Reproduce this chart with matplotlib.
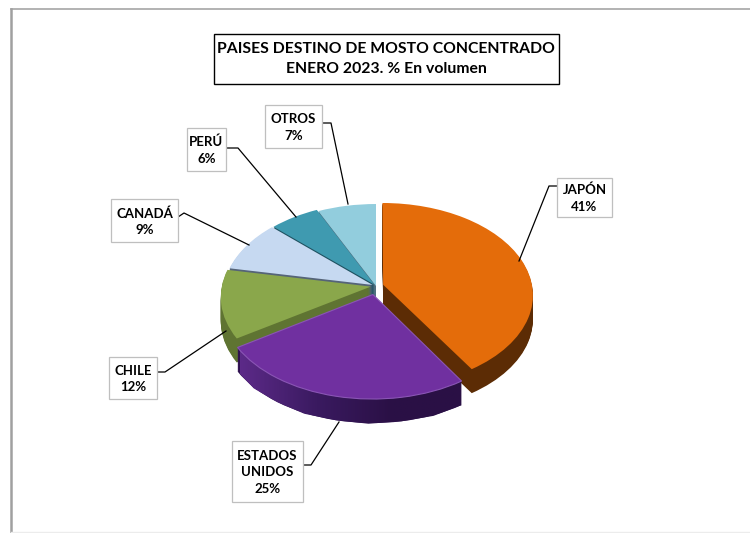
import numpy as np
import matplotlib
matplotlib.use('Agg')
import matplotlib.pyplot as plt
from matplotlib.colors import LinearSegmentedColormap
from matplotlib.path import Path
from matplotlib.transforms import Transform

plt.rcParams['font.family'] = ['Lato', 'DejaVu Sans']

# clockwise from 12 o'clock
paises = ['JAPÓN', 'ESTADOS\nUNIDOS', 'CHILE', 'CANADÁ', 'PERÚ', 'OTROS']
valores = [41, 25, 12, 9, 6, 7]
colores = ['#e46c0a', '#7030a0', '#8aa74b', '#c6d9f1', '#3f9ab0', '#92cddd']
paredes = ['#5c2c05', '#2f1050', '#5f7432', '#556478', '#1f5261', '#4f6f80']
separacion = [0.05, 0.095, 0.035, 0.025, 0.02, 0.0]
orden = [4, 5, 3, 2, 1, 0]  # z order, back slices first

titulo = 'PAISES DESTINO DE MOSTO CONCENTRADO\nENERO 2023. % En volumen'

# label boxes (x0, y0, x1, y1) and leader lines, in pixels
cajas = [(557, 178, 612, 217), (232, 441, 303, 502), (109, 357, 157, 399),
         (111, 199, 178, 242), (187, 128, 226, 171), (265, 105, 322, 148)]
guias = [[(557, 186), (549, 186), (519, 261)],
         [(303, 465), (311, 465), (339, 422)],
         [(157, 372), (165, 372), (226, 331)],
         [(178, 217), (184, 213), (249, 245)],
         [(226, 148), (238, 148), (296, 217)],
         [(322, 123), (331, 123), (348, 204)]]

CX, CY = 376, 286
RX, RY = 149, 91
PERSP = 0.11
PROF = 24


class Tilt(Transform):
    # unit pie to pixels, with the near side a bit bigger
    input_dims = 2
    output_dims = 2

    def __init__(self, dy=0):
        super().__init__()
        self.dy = dy

    def transform_non_affine(self, values):
        values = np.asarray(values)
        s = 1 / (1 + PERSP * values[:, 1])
        return np.column_stack([CX + RX * values[:, 0] * s,
                                CY + self.dy - RY * values[:, 1] * s])


fig = plt.figure(figsize=(7.5, 5.33), dpi=100)
ax = fig.add_axes([0, 0, 1, 1])


def dibuja_capa(cols, dy, z):
    wedges, _ = ax.pie(valores, colors=cols, startangle=90, counterclock=False,
                       explode=separacion, wedgeprops={'linewidth': 0})
    for w, o in zip(wedges, orden):
        w.set_transform(Tilt(dy) + ax.transData)
        w.set_zorder(o * 100 + z)
    return wedges


for capa in range(PROF, 0, -1):
    dibuja_capa(paredes, capa, PROF - capa)
tapas = dibuja_capa(colores, 0, 50)

# bright rim on the purple slice and gradient on its wall
tapas[1].set_edgecolor('#8a55b5')
tapas[1].set_linewidth(0.8)
poligonos = []
for capa in range(1, PROF + 1):
    for p in tapas[1].get_path().to_polygons():
        poligonos.append(Path(Tilt(capa).transform_non_affine(p)))
borde = Path.make_compound_path(*poligonos)
degradado = LinearSegmentedColormap.from_list('pared', ['#5c2a88', '#3a1a60', '#2a1045', '#2a1045'])
im = ax.imshow(np.linspace(0, 1, 200).reshape(1, -1), cmap=degradado, aspect='auto',
               extent=(240, 470, 440, 330), zorder=orden[1] * 100 + 40)
im.set_clip_path(borde, transform=ax.transData)

# chart frame
ax.plot([11, 750], [9, 9], color='#a6a6a6', lw=1.2, zorder=1)
ax.plot([11, 11], [9, 533], color='#a0a0a0', lw=1.8, zorder=1)
ax.plot([11, 750], [532, 532], color='#ececec', lw=1, zorder=1)

# title
ax.add_patch(plt.Rectangle((213.5, 33.5), 345, 50, fc='white', ec='black', lw=1, zorder=900))
ax.text(386, 59, titulo, ha='center', va='center', fontsize=11.3, fontweight='bold',
        linespacing=1.6, color='black', zorder=901)

# labels
for pais, valor, caja, guia in zip(paises, valores, cajas, guias):
    xs, ys = zip(*guia)
    ax.plot(xs, ys, color='black', lw=0.9, zorder=800)
    ax.add_patch(plt.Rectangle((caja[0], caja[1]), caja[2] - caja[0], caja[3] - caja[1],
                               fc='white', ec='#bfbfbf', lw=0.9, zorder=850))
    ax.text((caja[0] + caja[2]) / 2, (caja[1] + caja[3]) / 2 + 1, f'{pais}\n{valor}%', ha='center',
            va='center', fontsize=9.5, fontweight='bold', linespacing=1.45, color='black', zorder=851)

ax.set_xlim(0, 750)
ax.set_ylim(533, 0)
ax.axis('off')
fig.savefig('out.png', dpi=100)
